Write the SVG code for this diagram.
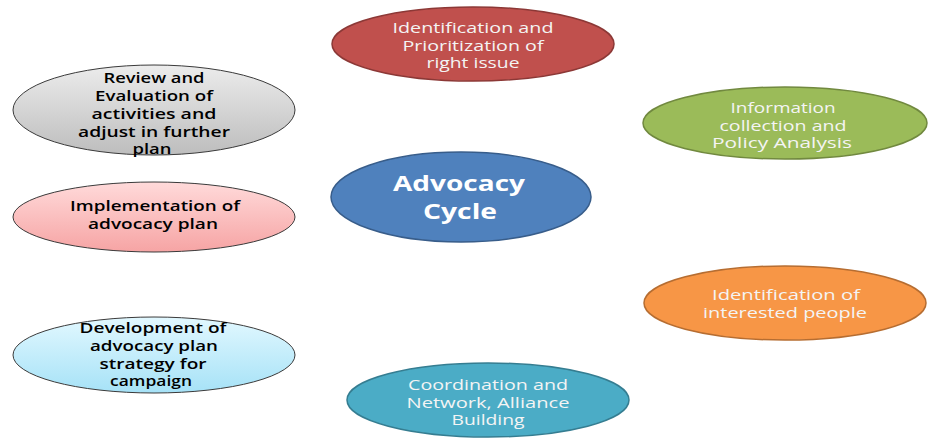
<svg xmlns="http://www.w3.org/2000/svg" width="928" height="439" viewBox="0 0 928 439">
<defs>
<linearGradient id="gGray" x1="0" y1="0" x2="0" y2="1"><stop offset="0" stop-color="#ececec"/><stop offset="1" stop-color="#bdbdbd"/></linearGradient>
<linearGradient id="gPink" x1="0" y1="0" x2="0" y2="1"><stop offset="0" stop-color="#ffdada"/><stop offset="1" stop-color="#f6a4a4"/></linearGradient>
<linearGradient id="gSky" x1="0" y1="0" x2="0" y2="1"><stop offset="0" stop-color="#e2f8ff"/><stop offset="1" stop-color="#a6e2f7"/></linearGradient>
<style>
.w{font-family:"Open Sans","DejaVu Sans",sans-serif;font-size:15px;fill:#f4f4f4;text-anchor:middle}
.b{font-family:"Open Sans","DejaVu Sans",sans-serif;font-size:14.5px;font-weight:600;fill:#000;text-anchor:middle}
.big{font-family:"Open Sans","DejaVu Sans",sans-serif;font-size:22px;font-weight:bold;fill:#fff;text-anchor:middle}
.light{stroke:#3a3a3a;stroke-width:1}
</style>
</defs>
<rect width="928" height="439" fill="#fff"/>
<g id="connectors"/>
<g id="n-identification">
<ellipse cx="473" cy="44" rx="141" ry="37" fill="#c0504d" stroke="#8c3836" stroke-width="1.5"/>
<text class="w" x="473" y="33" textLength="161" lengthAdjust="spacingAndGlyphs">Identification and</text>
<text class="w" x="473" y="51" textLength="141" lengthAdjust="spacingAndGlyphs">Prioritization of</text>
<text class="w" x="473" y="68" textLength="93" lengthAdjust="spacingAndGlyphs">right issue</text>
</g>
<g id="n-review">
<ellipse cx="154" cy="110" rx="141" ry="45" fill="url(#gGray)" class="light"/>
<text class="b" x="154" y="83" textLength="101" lengthAdjust="spacingAndGlyphs">Review and</text>
<text class="b" x="154" y="101" textLength="118" lengthAdjust="spacingAndGlyphs">Evaluation of</text>
<text class="b" x="154" y="119" textLength="125" lengthAdjust="spacingAndGlyphs">activities and</text>
<text class="b" x="154" y="137" textLength="152" lengthAdjust="spacingAndGlyphs">adjust in further</text>
<text class="b" x="152" y="154" textLength="39" lengthAdjust="spacingAndGlyphs">plan</text>
</g>
<g id="n-info">
<ellipse cx="785" cy="123" rx="142" ry="36" fill="#9bbb59" stroke="#71893f" stroke-width="1.5"/>
<text class="w" x="783" y="113" textLength="105" lengthAdjust="spacingAndGlyphs">Information</text>
<text class="w" x="783" y="131" textLength="127" lengthAdjust="spacingAndGlyphs">collection and</text>
<text class="w" x="782" y="148" textLength="140" lengthAdjust="spacingAndGlyphs">Policy Analysis</text>
</g>
<g id="n-center">
<ellipse cx="461" cy="197" rx="130" ry="45" fill="#4f81bd" stroke="#385d8a" stroke-width="1.5"/>
<text class="big" x="459" y="191" textLength="132" lengthAdjust="spacingAndGlyphs">Advocacy</text>
<text class="big" x="460" y="219" textLength="74" lengthAdjust="spacingAndGlyphs">Cycle</text>
</g>
<g id="n-implementation">
<ellipse cx="154" cy="217" rx="141" ry="35" fill="url(#gPink)" class="light"/>
<text class="b" x="155" y="211" textLength="170" lengthAdjust="spacingAndGlyphs">Implementation of</text>
<text class="b" x="153" y="229" textLength="130" lengthAdjust="spacingAndGlyphs">advocacy plan</text>
</g>
<g id="n-interested">
<ellipse cx="785" cy="303" rx="141" ry="37" fill="#f79646" stroke="#b66d31" stroke-width="1.5"/>
<text class="w" x="786" y="300" textLength="148" lengthAdjust="spacingAndGlyphs">Identification of</text>
<text class="w" x="785" y="318" textLength="164" lengthAdjust="spacingAndGlyphs">interested people</text>
</g>
<g id="n-development">
<ellipse cx="154" cy="355" rx="141" ry="38" fill="url(#gSky)" class="light"/>
<text class="b" x="153" y="333" textLength="147" lengthAdjust="spacingAndGlyphs">Development of</text>
<text class="b" x="154" y="351" textLength="128" lengthAdjust="spacingAndGlyphs">advocacy plan</text>
<text class="b" x="153" y="369" textLength="107" lengthAdjust="spacingAndGlyphs">strategy for</text>
<text class="b" x="151" y="386" textLength="82" lengthAdjust="spacingAndGlyphs">campaign</text>
</g>
<g id="n-coordination">
<ellipse cx="488" cy="400" rx="141" ry="37" fill="#4bacc6" stroke="#357d91" stroke-width="1.5"/>
<text class="w" x="488" y="390" textLength="160" lengthAdjust="spacingAndGlyphs">Coordination and</text>
<text class="w" x="488" y="408" textLength="163" lengthAdjust="spacingAndGlyphs">Network, Alliance</text>
<text class="w" x="488" y="425" textLength="73" lengthAdjust="spacingAndGlyphs">Building</text>
</g>
</svg>
